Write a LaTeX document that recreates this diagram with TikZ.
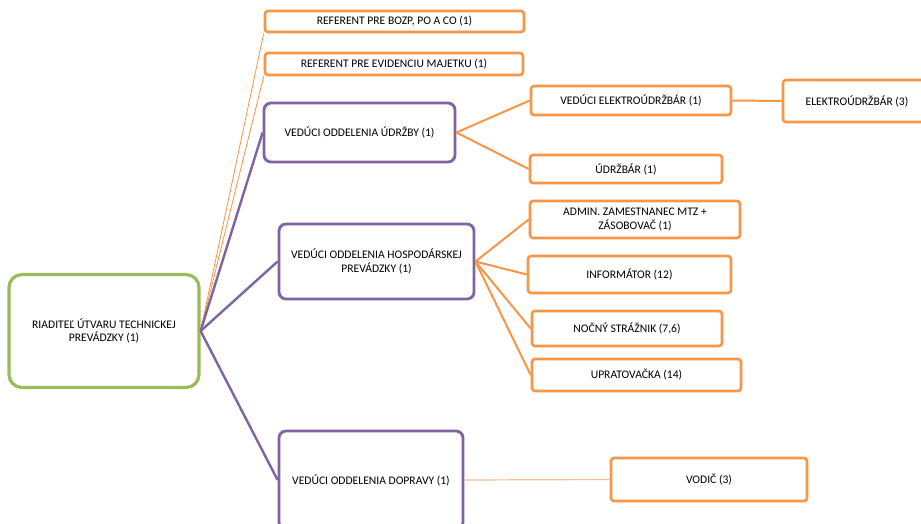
\documentclass[tikz,border=0pt]{standalone}
\usepackage{fontspec}
\setmainfont{Carlito}
\definecolor{boxorange}{HTML}{F79646}
\definecolor{boxpurple}{HTML}{8064A2}
\definecolor{boxgreen}{HTML}{9BBB59}
\definecolor{lineorange}{HTML}{F9BC94}
\tikzstyle{unit} = [rectangle, align=center, inner sep=0pt, fill=white, font={\fontsize{11.6}{13.5}\selectfont}]
\tikzstyle{head} = [unit, draw=boxgreen, line width=3.2pt, rounded corners=13pt]
\tikzstyle{dept} = [unit, draw=boxpurple, line width=2.8pt, rounded corners=7pt]
\tikzstyle{staff} = [unit, draw=boxorange, line width=2.6pt, rounded corners=3pt]
\tikzstyle{plink} = [draw=boxpurple, line width=2.4pt]
\tikzstyle{olink} = [draw=boxorange, line width=2pt]
\tikzstyle{thin} = [draw=boxorange, line width=0.8pt]

\begin{document}
\begin{tikzpicture}[x=1pt,y=-1pt]
    \clip (0,0) rectangle (921,524);
    \fill[white] (0,0) rectangle (921,524);
    \node[head,minimum width=190pt,minimum height=113pt](riad) at (104,331){RIADITEĽ ÚTVARU TECHNICKEJ\\PREVÁDZKY (1)};
    \node[staff,minimum width=259pt,minimum height=21pt](bozp) at (394.5,21.5){REFERENT PRE BOZP, PO A CO (1)};
    \node[staff,minimum width=258pt,minimum height=22pt](evid) at (394,64){REFERENT PRE EVIDENCIU MAJETKU (1)};
    \node[dept,minimum width=191pt,minimum height=59pt](udrz) at (359.5,132.5){VEDÚCI ODDELENIA ÚDRŽBY (1)};
    \node[dept,minimum width=195pt,minimum height=75pt](hosp) at (376.5,261.5){VEDÚCI ODDELENIA HOSPODÁRSKEJ\\PREVÁDZKY (1)};
    \node[dept,minimum width=184pt,minimum height=98pt](dop) at (371,480){VEDÚCI ODDELENIA DOPRAVY (1)};
    \node[staff,minimum width=200pt,minimum height=29pt](velek) at (631,100.5){VEDÚCI ELEKTROÚDRŽBÁR (1)};
    \node[staff,minimum width=148pt,minimum height=42pt](elek) at (857,101){ELEKTROÚDRŽBÁR (3)};
    \node[staff,minimum width=192pt,minimum height=28pt](udrzbar) at (626,169){ÚDRŽBÁR (1)};
    \node[staff,minimum width=210pt,minimum height=37pt](admin) at (635,219.5){ADMIN. ZAMESTNANEC MTZ +\\ZÁSOBOVAČ (1)};
    \node[staff,minimum width=203pt,minimum height=37pt](info) at (629.5,274.5){INFORMÁTOR (12)};
    \node[staff,minimum width=190pt,minimum height=35pt](nocny) at (627,328.5){NOČNÝ STRÁŽNIK (7,6)};
    \node[staff,minimum width=209pt,minimum height=32pt](uprat) at (636.5,375){UPRATOVAČKA (14)};
    \node[staff,minimum width=196pt,minimum height=43pt](vodic) at (709,479.5){VODIČ (3)};
    \draw[thin](riad.east)--(bozp.south west);
    \draw[thin](riad.east)--(evid.south west);
    \draw[plink](riad.east)--(udrz.west);
    \draw[plink](riad.east)--(hosp.west);
    \draw[plink](riad.east)--(dop.west);
    \draw[olink](udrz.east)--(velek.west);
    \draw[olink](udrz.east)--(udrzbar.west);
    \draw[olink](velek.east)--(elek.west);
    \draw[olink](hosp.east)--(admin.west);
    \draw[olink](hosp.east)--(info.west);
    \draw[olink](hosp.east)--(nocny.west);
    \draw[olink](hosp.east)--(uprat.west);
    \draw[draw=lineorange,line width=1.2pt](dop.east)--(vodic.west);
  \end{tikzpicture}
\end{document}
